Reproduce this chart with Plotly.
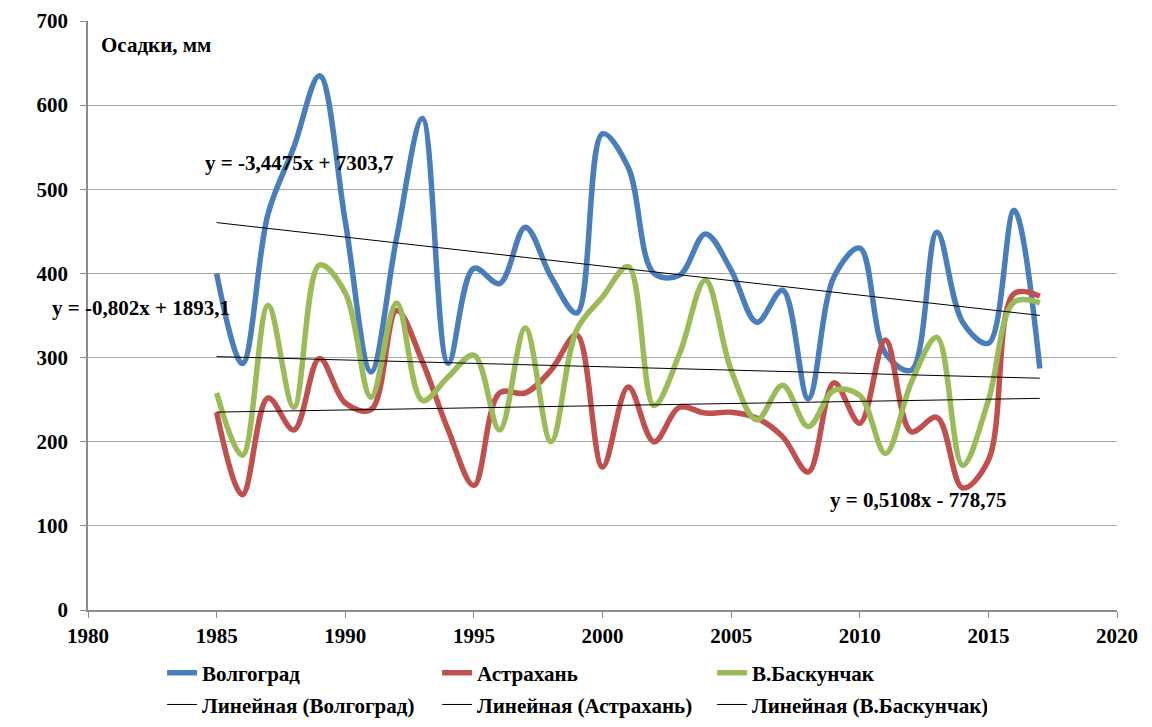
import numpy as np
import plotly.graph_objects as go

years = list(range(1985, 2018))

volgograd = [400, 293, 471, 550, 635, 462, 283, 443, 584, 293, 406, 388, 455, 396, 353,
             566, 526, 400, 398, 447, 404, 342, 380, 251, 396, 430, 305, 285, 449, 342, 317, 475, 287]
astrakhan = [235, 137, 252, 214, 299, 246, 238, 356, 295, 214, 148, 258, 258, 285, 327,
             170, 265, 200, 241, 234, 235, 228, 206, 164, 270, 222, 321, 212, 229, 145, 178, 376, 373]
baskunchak = [258, 184, 362, 241, 410, 377, 253, 365, 249, 277, 303, 214, 335, 200, 333,
              372, 408, 243, 305, 392, 285, 226, 267, 218, 261, 255, 186, 270, 324, 172, 249, 366, 365]

# trend line coefficients (as printed on the chart)
slopes = [-3.4475, 0.5108, -0.802]
intercepts = [7303.7, -778.75, 1893.1]

names = ["Волгоград", "Астрахань", "В.Баскунчак"]
colors = ["#4A7EBB", "#C0504D", "#9BBB59"]
series = [volgograd, astrakhan, baskunchak]

x_ticks = list(range(1980, 2021, 5))
y_ticks = list(range(0, 701, 100))

font_family = "Liberation Serif, Times New Roman, serif"
bold = dict(family=font_family, size=21, color="black", weight="bold")

fig = go.Figure()

for name, color, vals in zip(names, colors, series):
    fig.add_trace(go.Scatter(x=years, y=vals, mode="lines", name=name,
                             line=dict(color=color, width=5.5, shape="spline", smoothing=1),
                             legend="legend"))

yrs = np.array([years[0], years[-1]])
for name, k, b in zip(names, slopes, intercepts):
    fig.add_trace(go.Scatter(x=yrs, y=k * yrs + b, mode="lines",
                             name="Линейная (" + name + ")",
                             line=dict(color="black", width=1),
                             legend="legend2"))

# equations and axis title
fig.add_annotation(x=1984.47, y=531, xanchor="left", yanchor="middle", showarrow=False,
                   text="y = -3,4475x + 7303,7")
fig.add_annotation(x=-0.037, xref="paper", y=359, xanchor="left", yanchor="middle", showarrow=False,
                   text="y = -0,802x + 1893,1")
fig.add_annotation(x=2008.77, y=131, xanchor="left", yanchor="middle", showarrow=False,
                   text="y = 0,5108x - 778,75")
fig.add_annotation(x=1980.43, y=671, xanchor="left", yanchor="middle", showarrow=False,
                   text="Осадки, мм")

fig.update_annotations(font=bold)

legend_common = dict(orientation="h", xanchor="left", yanchor="middle",
                     entrywidth=230, entrywidthmode="pixels", itemwidth=30,
                     font=bold, bgcolor="rgba(0,0,0,0)", tracegroupgap=0)

fig.update_layout(
    width=1136, height=711,
    margin=dict(l=80, r=27, t=13, b=109, autoexpand=False),
    paper_bgcolor="white", plot_bgcolor="white",
    font=bold,
    showlegend=True,
    legend=dict(x=0.072, y=-0.107, **legend_common),
    legend2=dict(x=0.072, y=-0.161, **legend_common),
    xaxis=dict(range=[1980, 2020], tickvals=x_ticks, showgrid=False, zeroline=False,
               showline=True, linecolor="#8C8C8C", linewidth=1.5,
               ticks="outside", ticklen=6, tickcolor="#8C8C8C", tickwidth=1.2,
               tickfont=bold),
    yaxis=dict(range=[0, 700], tickvals=y_ticks, showgrid=True, gridcolor="#A6A6A6", gridwidth=1.2,
               zeroline=False, showline=True, linecolor="#8C8C8C", linewidth=1.5,
               ticks="outside", ticklen=6, tickcolor="#8C8C8C", tickwidth=1.2,
               ticklabelstandoff=8,
               tickfont=bold),
)

fig.write_html("out.html")
